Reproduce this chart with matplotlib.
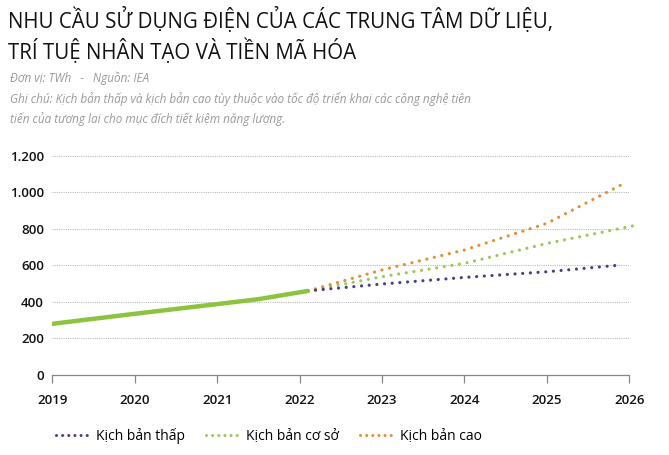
import matplotlib
matplotlib.use("Agg")
import matplotlib.pyplot as plt
from matplotlib.lines import Line2D

plt.rcParams['font.family'] = ['Open Sans', 'Noto Sans', 'DejaVu Sans']

# Data (TWh)
hist_years = [2019, 2020, 2021, 2021.5, 2022.1]
hist_vals = [280, 335, 388, 415, 460]

proj_years = [2022.1, 2023, 2024, 2025, 2025.9]
low_vals = [460, 498, 534, 565, 602]
high_vals = [460, 575, 684, 830, 1040]
base_years = [2022.1, 2023, 2024, 2025, 2026.1]
base_vals = [460, 538, 611, 720, 821]

series_labels = ["Kịch bản thấp", "Kịch bản cơ sở", "Kịch bản cao"]
yticks = [0, 200, 400, 600, 800, 1000, 1200]
ytick_labels = ["0", "200", "400", "600", "800", "1.000", "1.200"]
xticks = [2019, 2020, 2021, 2022, 2023, 2024, 2025, 2026]

c_low = "#4a3f86"
c_base = "#9cc75a"
c_high = "#e08f34"
c_hist = "#8cc43f"

fig = plt.figure(figsize=(6.69, 4.55), dpi=100)
ax = fig.add_axes([0.0782, 0.1758, 0.8625, 0.482])

dot = (0, (0.01, 2.4))
ax.plot(hist_years, hist_vals, color=c_hist, lw=3.2, solid_capstyle='round', zorder=3)
ax.plot(base_years, base_vals, color=c_base, lw=2.3, linestyle=dot, dash_capstyle='round', zorder=2, clip_on=False)
ax.plot(proj_years, high_vals, color=c_high, lw=2.3, linestyle=dot, dash_capstyle='round', zorder=2, clip_on=False)
ax.plot(proj_years, low_vals, color=c_low, lw=2.3, linestyle=dot, dash_capstyle='round', zorder=2, clip_on=False)

ax.set_xlim(2019, 2026)
ax.set_ylim(0, 1200)
ax.set_yticks(yticks)
ax.set_yticklabels(ytick_labels)
ax.set_xticks(xticks)
ax.set_xticklabels([str(x) for x in xticks])
for s in ['top', 'right', 'left']:
    ax.spines[s].set_visible(False)
ax.spines['bottom'].set_color('#888888')
ax.spines['bottom'].set_linewidth(0.9)
ax.grid(axis='y', color='#bbbbbb', linestyle=(0, (1, 1)), linewidth=0.8)
ax.set_axisbelow(True)
ax.tick_params(axis='y', length=0, pad=6, labelsize=9.5, labelcolor='#111111')
ax.tick_params(axis='x', length=6, width=0.9, color='#888888', pad=8, labelsize=9.5, labelcolor='#111111')
for lab in ax.get_xticklabels() + ax.get_yticklabels():
    lab.set_fontweight('semibold')

fig.text(0.012, 0.985, "NHU CẦU SỬ DỤNG ĐIỆN CỦA CÁC TRUNG TÂM DỮ LIỆU,\nTRÍ TUỆ NHÂN TẠO VÀ TIỀN MÃ HÓA",
         fontsize=14.8, color='#111111', va='top', ha='left', linespacing=1.3)
fig.text(0.015, 0.828, "Đơn vị: TWh   -   Nguồn: IEA", fontsize=8.45, style='italic', color='#999999', va='center')
fig.text(0.015, 0.782, "Ghi chú: Kịch bản thấp và kịch bản cao tùy thuộc vào tốc độ triển khai các công nghệ tiên",
         fontsize=8.45, style='italic', color='#999999', va='center')
fig.text(0.015, 0.738, "tiến của tương lai cho mục đích tiết kiệm năng lượng.",
         fontsize=8.45, style='italic', color='#999999', va='center')

handles = [Line2D([0], [0], color=c, lw=2.2, linestyle=(0, (0.01, 2.0)), dash_capstyle='round')
           for c in (c_low, c_base, c_high)]
fig.legend(handles, series_labels, loc='center left', bbox_to_anchor=(0.065, 0.042), ncol=3,
           frameon=False, fontsize=10, handlelength=2.6, handletextpad=0.3, columnspacing=1.5)

fig.savefig("out.png", dpi=100, facecolor='white')
